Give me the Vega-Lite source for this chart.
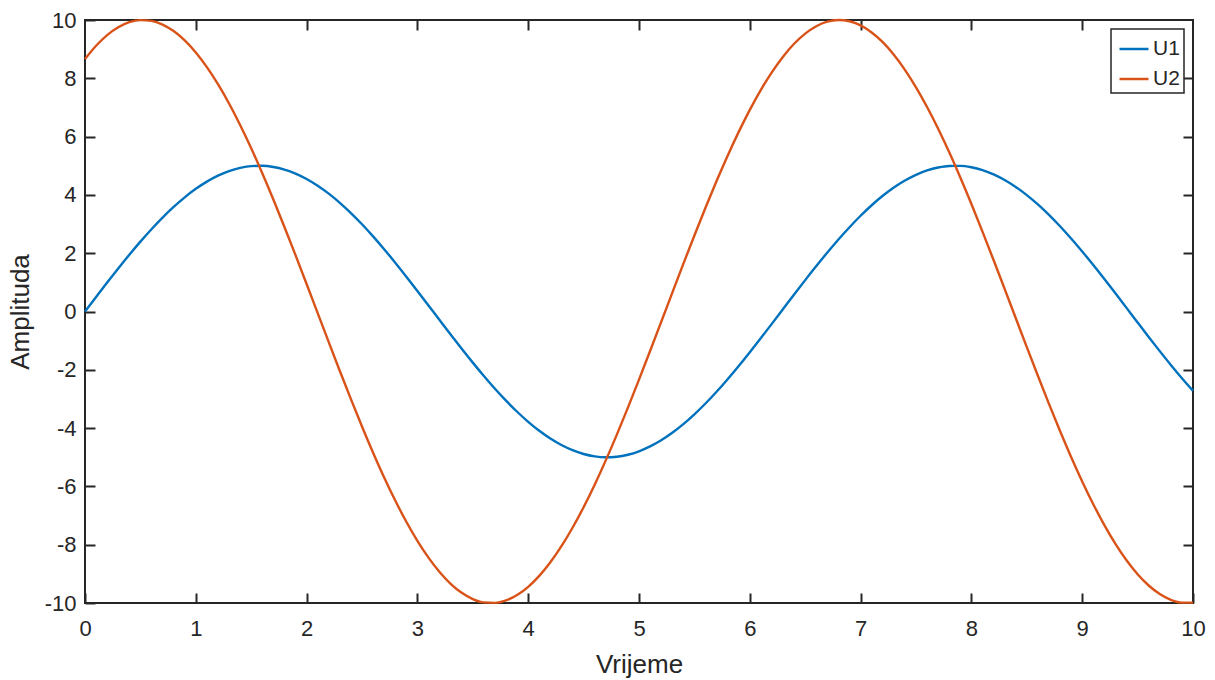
{
  "$schema": "https://vega.github.io/schema/vega-lite/v6.json",
  "width": 1108,
  "height": 583,
  "autosize": {"type": "none"},
  "padding": {"left": 85, "top": 20, "right": 22, "bottom": 77},
  "background": "white",
  "config": {
    "view": {"stroke": "#262626", "strokeWidth": 2},
    "font": "Liberation Sans",
    "axis": {
      "grid": false,
      "domain": false,
      "ticks": true,
      "tickColor": "#262626",
      "tickWidth": 2,
      "tickSize": -10,
      "labelFlush": false,
      "labelColor": "#262626",
      "labelFont": "Liberation Sans",
      "labelFontSize": 22,
      "titleFont": "Liberation Sans",
      "titleFontSize": 26,
      "titleFontWeight": "normal",
      "titleColor": "#262626"
    },
    "legend": {
      "orient": "top-right",
      "offset": 9,
      "strokeColor": "#262626",
      "strokeWidth": 1.5,
      "fillColor": "white",
      "padding": 4,
      "symbolType": "stroke",
      "symbolSize": 841,
      "symbolStrokeWidth": 2.5,
      "symbolOffset": 3,
      "labelOffset": 3,
      "rowPadding": 4,
      "labelFont": "Liberation Sans",
      "labelFontSize": 21,
      "labelColor": "#262626"
    }
  },
  "data": {
    "values": [
      {"t": 0.0, "U1": 0.0, "U2": 8.66},
      {"t": 0.1, "U1": 0.499, "U2": 9.116},
      {"t": 0.2, "U1": 0.994, "U2": 9.482},
      {"t": 0.3, "U1": 1.478, "U2": 9.751},
      {"t": 0.4, "U1": 1.947, "U2": 9.924},
      {"t": 0.5, "U1": 2.397, "U2": 9.997},
      {"t": 0.6, "U1": 2.823, "U2": 9.97},
      {"t": 0.7, "U1": 3.221, "U2": 9.844},
      {"t": 0.8, "U1": 3.587, "U2": 9.62},
      {"t": 0.9, "U1": 3.917, "U2": 9.3},
      {"t": 1.0, "U1": 4.208, "U2": 8.887},
      {"t": 1.1, "U1": 4.456, "U2": 8.384},
      {"t": 1.2, "U1": 4.66, "U2": 7.798},
      {"t": 1.3, "U1": 4.818, "U2": 7.135},
      {"t": 1.4, "U1": 4.927, "U2": 6.399},
      {"t": 1.5, "U1": 4.988, "U2": 5.6},
      {"t": 1.6, "U1": 4.998, "U2": 4.745},
      {"t": 1.7, "U1": 4.959, "U2": 3.844},
      {"t": 1.8, "U1": 4.869, "U2": 2.901},
      {"t": 1.9, "U1": 4.732, "U2": 1.932},
      {"t": 2.0, "U1": 4.547, "U2": 0.944},
      {"t": 2.1, "U1": 4.316, "U2": -0.056},
      {"t": 2.2, "U1": 4.043, "U2": -1.053},
      {"t": 2.3, "U1": 3.729, "U2": -2.041},
      {"t": 2.4, "U1": 3.378, "U2": -3.008},
      {"t": 2.5, "U1": 2.993, "U2": -3.945},
      {"t": 2.6, "U1": 2.578, "U2": -4.843},
      {"t": 2.7, "U1": 2.137, "U2": -5.693},
      {"t": 2.8, "U1": 1.675, "U2": -6.484},
      {"t": 2.9, "U1": 1.196, "U2": -7.213},
      {"t": 3.0, "U1": 0.706, "U2": -7.867},
      {"t": 3.1, "U1": 0.208, "U2": -8.444},
      {"t": 3.2, "U1": -0.292, "U2": -8.937},
      {"t": 3.3, "U1": -0.789, "U2": -9.341},
      {"t": 3.4, "U1": -1.278, "U2": -9.65},
      {"t": 3.5, "U1": -1.754, "U2": -9.864},
      {"t": 3.6, "U1": -2.213, "U2": -9.979},
      {"t": 3.7, "U1": -2.649, "U2": -9.994},
      {"t": 3.8, "U1": -3.06, "U2": -9.91},
      {"t": 3.9, "U1": -3.439, "U2": -9.725},
      {"t": 4.0, "U1": -3.784, "U2": -9.444},
      {"t": 4.1, "U1": -4.092, "U2": -9.07},
      {"t": 4.2, "U1": -4.358, "U2": -8.604},
      {"t": 4.3, "U1": -4.581, "U2": -8.052},
      {"t": 4.4, "U1": -4.758, "U2": -7.419},
      {"t": 4.5, "U1": -4.888, "U2": -6.714},
      {"t": 4.6, "U1": -4.969, "U2": -5.941},
      {"t": 4.7, "U1": -5.0, "U2": -5.107},
      {"t": 4.8, "U1": -4.981, "U2": -4.223},
      {"t": 4.9, "U1": -4.913, "U2": -3.298},
      {"t": 5.0, "U1": -4.795, "U2": -2.338},
      {"t": 5.1, "U1": -4.629, "U2": -1.356},
      {"t": 5.2, "U1": -4.418, "U2": -0.361},
      {"t": 5.3, "U1": -4.162, "U2": 0.639},
      {"t": 5.4, "U1": -3.864, "U2": 1.633},
      {"t": 5.5, "U1": -3.528, "U2": 2.609},
      {"t": 5.6, "U1": -3.157, "U2": 3.56},
      {"t": 5.7, "U1": -2.754, "U2": 4.475},
      {"t": 5.8, "U1": -2.323, "U2": 5.345},
      {"t": 5.9, "U1": -1.87, "U2": 6.162},
      {"t": 6.0, "U1": -1.397, "U2": 6.918},
      {"t": 6.1, "U1": -0.911, "U2": 7.604},
      {"t": 6.2, "U1": -0.416, "U2": 8.214},
      {"t": 6.3, "U1": 0.084, "U2": 8.743},
      {"t": 6.4, "U1": 0.583, "U2": 9.184},
      {"t": 6.5, "U1": 1.076, "U2": 9.533},
      {"t": 6.6, "U1": 1.558, "U2": 9.787},
      {"t": 6.7, "U1": 2.024, "U2": 9.943},
      {"t": 6.8, "U1": 2.471, "U2": 9.999},
      {"t": 6.9, "U1": 2.892, "U2": 9.956},
      {"t": 7.0, "U1": 3.285, "U2": 9.814},
      {"t": 7.1, "U1": 3.645, "U2": 9.573},
      {"t": 7.2, "U1": 3.969, "U2": 9.238},
      {"t": 7.3, "U1": 4.252, "U2": 8.808},
      {"t": 7.4, "U1": 4.494, "U2": 8.291},
      {"t": 7.5, "U1": 4.69, "U2": 7.692},
      {"t": 7.6, "U1": 4.84, "U2": 7.016},
      {"t": 7.7, "U1": 4.941, "U2": 6.269},
      {"t": 7.8, "U1": 4.993, "U2": 5.461},
      {"t": 7.9, "U1": 4.995, "U2": 4.597},
      {"t": 8.0, "U1": 4.947, "U2": 3.687},
      {"t": 8.1, "U1": 4.85, "U2": 2.741},
      {"t": 8.2, "U1": 4.704, "U2": 1.767},
      {"t": 8.3, "U1": 4.511, "U2": 0.775},
      {"t": 8.4, "U1": 4.273, "U2": -0.224},
      {"t": 8.5, "U1": 3.993, "U2": -1.22},
      {"t": 8.6, "U1": 3.672, "U2": -2.206},
      {"t": 8.7, "U1": 3.315, "U2": -3.168},
      {"t": 8.8, "U1": 2.925, "U2": -4.099},
      {"t": 8.9, "U1": 2.505, "U2": -4.989},
      {"t": 9.0, "U1": 2.061, "U2": -5.829},
      {"t": 9.1, "U1": 1.596, "U2": -6.611},
      {"t": 9.2, "U1": 1.115, "U2": -7.327},
      {"t": 9.3, "U1": 0.623, "U2": -7.969},
      {"t": 9.4, "U1": 0.124, "U2": -8.533},
      {"t": 9.5, "U1": -0.376, "U2": -9.012},
      {"t": 9.6, "U1": -0.872, "U2": -9.4},
      {"t": 9.7, "U1": -1.359, "U2": -9.693},
      {"t": 9.8, "U1": -1.833, "U2": -9.89},
      {"t": 9.9, "U1": -2.288, "U2": -9.988},
      {"t": 10.0, "U1": -2.72, "U2": -9.987}
    ]
  },
  "transform": [{"fold": ["U1", "U2"], "as": ["series", "value"]}],
  "layer": [
    {
      "mark": {"type": "line", "strokeWidth": 2.4, "clip": false, "interpolate": "monotone"},
      "encoding": {
        "x": {
          "field": "t",
          "type": "quantitative",
          "scale": {"domain": [0, 10], "nice": false, "zero": false},
          "axis": {
            "orient": "bottom",
            "values": [0, 1, 2, 3, 4, 5, 6, 7, 8, 9, 10],
            "labelPadding": 25,
            "title": "Vrijeme",
            "titleY": 69,
            "titleBaseline": "alphabetic"
          }
        },
        "y": {
          "field": "value",
          "type": "quantitative",
          "scale": {"domain": [-10, 10], "nice": false, "zero": false},
          "axis": {
            "orient": "left",
            "values": [-10, -8, -6, -4, -2, 0, 2, 4, 6, 8, 10],
            "labelPadding": 19,
            "labelExpr": "datum.value < 0 ? '-' + abs(datum.value) : '' + datum.value",
            "title": "Amplituda",
            "titleX": -57,
            "titleBaseline": "alphabetic"
          }
        },
        "color": {
          "field": "series",
          "type": "nominal",
          "scale": {"domain": ["U1", "U2"], "range": ["#0072BD", "#D95319"]},
          "legend": {"title": null}
        }
      }
    },
    {
      "mark": {"type": "line", "opacity": 0},
      "encoding": {
        "detail": {"field": "series"},
        "x": {
          "field": "t",
          "type": "quantitative",
          "scale": {"domain": [0, 10], "nice": false, "zero": false},
          "axis": {
            "orient": "top",
            "values": [1, 2, 3, 4, 5, 6, 7, 8, 9],
            "labels": false,
            "title": null
          }
        },
        "y": {
          "field": "value",
          "type": "quantitative",
          "scale": {"domain": [-10, 10], "nice": false, "zero": false},
          "axis": {
            "orient": "right",
            "values": [-8, -6, -4, -2, 0, 2, 4, 6, 8],
            "labels": false,
            "title": null
          }
        }
      }
    }
  ],
  "resolve": {"axis": {"x": "independent", "y": "independent"}}
}
